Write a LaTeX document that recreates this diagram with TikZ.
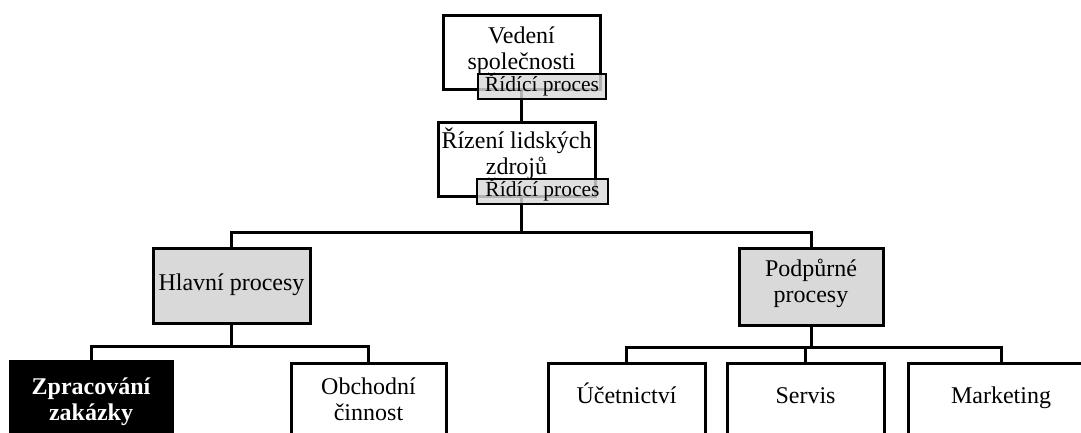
\documentclass[tikz,border=0pt]{standalone}
\usepackage{fontspec}
\setmainfont{Liberation Serif}
\begin{document}
\begin{tikzpicture}[x=1pt,y=-1pt,
  box/.style={draw=black, line width=3pt, inner sep=0pt, outer sep=0pt},
  plainbox/.style={box, fill=white},
  groupbox/.style={box, fill=gray!30},
  darkbox/.style={box, fill=black},
  tagbox/.style={box, line width=2.8pt, fill=gray!30, fill opacity=0.82,
    draw opacity=1, text opacity=1, inner sep=0pt,
    text height=15pt, text depth=4.5pt, font=\fontsize{21.5}{24}\selectfont},
  conn/.style={draw=black, line width=3pt},
  txt/.style={align=center, inner sep=0pt, font=\fontsize{24}{26}\selectfont},
]
\useasboundingbox (0,0) rectangle (1081,433);
\fill[white] (0,0) rectangle (1081,433);
\clip (0,0) rectangle (1081,433);

% boxes
\node[plainbox, minimum width=157pt, minimum height=74pt] (ved) at (521.5,53) {};
\node[plainbox, minimum width=157pt, minimum height=73pt] (rlz) at (516.5,159.5) {};
\node[groupbox, minimum width=157pt, minimum height=75pt] (hl) at (231.5,285.5) {};
\node[groupbox, minimum width=144pt, minimum height=77pt] (pp) at (811,287) {};
\node[darkbox, minimum width=162pt, minimum height=78pt] (zp) at (91,400) {};
\node[plainbox, minimum width=155pt, minimum height=77pt] (ob) at (368.5,401.5) {};
\node[plainbox, minimum width=157pt, minimum height=77pt] (uc) at (626.5,401.5) {};
\node[plainbox, minimum width=157pt, minimum height=77pt] (se) at (805.5,401.5) {};
\node[plainbox, minimum width=186pt, minimum height=77pt] (mk) at (1001,401.5) {};

% connectors
\coordinate (topbus) at (521,232);
\coordinate (lbus) at (231.5,346);
\coordinate (rbus) at (811,347);
\draw[conn] (ved.south) -- (ved.south |- rlz.north);
\draw[conn] (rlz.south -| topbus) -- (topbus);
\draw[conn] (hl.north) |- (topbus) -| (pp.north);
\draw[conn] (hl.south) -- (lbus);
\draw[conn] (zp.north) |- (lbus) -| (ob.north);
\draw[conn] (pp.south) -- (rbus);
\draw[conn] (uc.north) |- (rbus) -| (mk.north);
\draw[conn] (se.north) -- (se.north |- rbus);

% process tags
\node[tagbox, minimum width=128pt, minimum height=25pt] (tag1) at (542,86.5) {Řídící proces};
\node[tagbox, minimum width=131pt, minimum height=25pt] (tag2) at (542.5,191.5) {Řídící proces};

% texts
\node[txt] (tved) at (521.5,50.4) {Vedení\\společnosti};
\node[txt] (trlz) at (516.5,153.6) {Řízení lidských\\zdrojů};
\node[txt, anchor=base] (thl) at (231.5,290) {Hlavní procesy};
\node[txt] (tpp) at (811,283) {Podpůrné\\procesy};
\node[txt, text=white, font=\fontsize{24}{26}\selectfont\bfseries] (tzp) at (91,402) {Zpracování\\zakázky};
\node[txt] (tob) at (368.5,399.5) {Obchodní\\činnost};
\node[txt, anchor=base] (tuc) at (626.5,403) {Účetnictví};
\node[txt, anchor=base] (tse) at (805.5,403) {Servis};
\node[txt, anchor=base] (tmk) at (1001,403) {Marketing};
\end{tikzpicture}
\end{document}
